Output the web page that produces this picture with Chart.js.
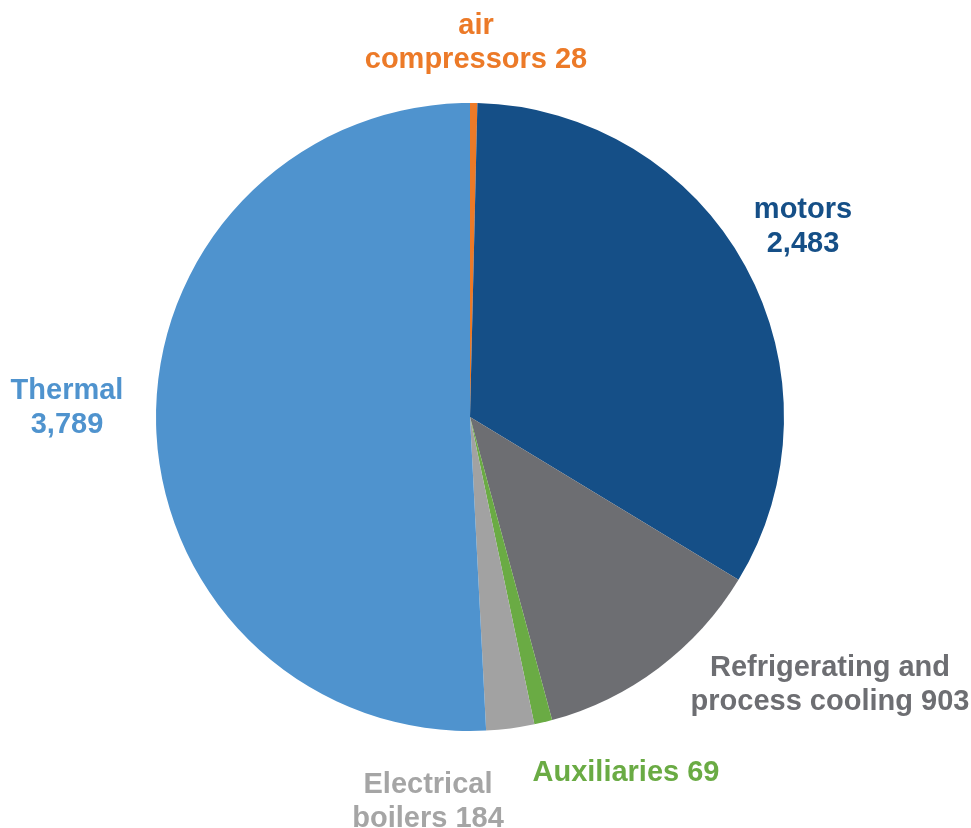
<!DOCTYPE html>
<html>
<head>
<meta charset="utf-8">
<script src="https://cdn.jsdelivr.net/npm/chart.js@4"></script>
<style>
  html, body { margin: 0; padding: 0; background: #ffffff; }
  #wrap { width: 971px; height: 828px; position: relative; }
</style>
</head>
<body>
<div id="wrap"><canvas id="chart"></canvas></div>
<script>
// datos del gráfico
const categories = ["air compressors", "motors", "Refrigerating and process cooling", "Auxiliaries", "Electrical boilers", "Thermal"];
const values = [28, 2483, 903, 69, 184, 3789];
const valueLabels = ["28", "2,483", "903", "69", "184", "3,789"];
// líneas de cada etiqueta
const labelLines = [
    ["air", "compressors 28"],
    ["motors", "2,483"],
    ["Refrigerating and", "process cooling 903"],
    ["Auxiliaries 69"],
    ["Electrical", "boilers 184"],
    ["Thermal", "3,789"]
];

const sliceColors = ["#EC7A28", "#154F87", "#6D6E72", "#6AAB44", "#A2A2A2", "#4F93CE"];
const textColors = ["#EC7A28", "#154F87", "#6D6E72", "#6AAB44", "#A5A5A5", "#4F93CE"];
// posición (centro x, baseline de la primera línea)
const labelPos = [
    [476, 34], [803, 218], [830, 676], [626, 781], [428, 793], [67, 399]
];

const labelPlugin = {
    id: "sliceLabels",
    afterDraw(chart) {
        const ctx = chart.ctx;
        ctx.save();
        ctx.font = "bold 29px 'Liberation Sans', Arial, sans-serif";
        ctx.textAlign = "center";
        ctx.textBaseline = "alphabetic";
        labelLines.forEach((lines, i) => {
            ctx.fillStyle = textColors[i];
            lines.forEach((line, j) => {
                ctx.fillText(line, labelPos[i][0], labelPos[i][1] + j * 34);
            });
        });
        ctx.restore();
    }
};

new Chart(document.getElementById("chart"), {
    type: "pie",
    data: {
        labels: categories,
        datasets: [{
            data: values,
            backgroundColor: sliceColors,
            borderWidth: 0
        }]
    },
    options: {
        responsive: true,
        maintainAspectRatio: false,
        animation: false,
        rotation: 0,
        layout: { padding: { left: 156, right: 187, top: 103, bottom: 97 } },
        plugins: {
            legend: { display: false },
            tooltip: { enabled: false }
        }
    },
    plugins: [labelPlugin]
});
</script>
</body>
</html>
